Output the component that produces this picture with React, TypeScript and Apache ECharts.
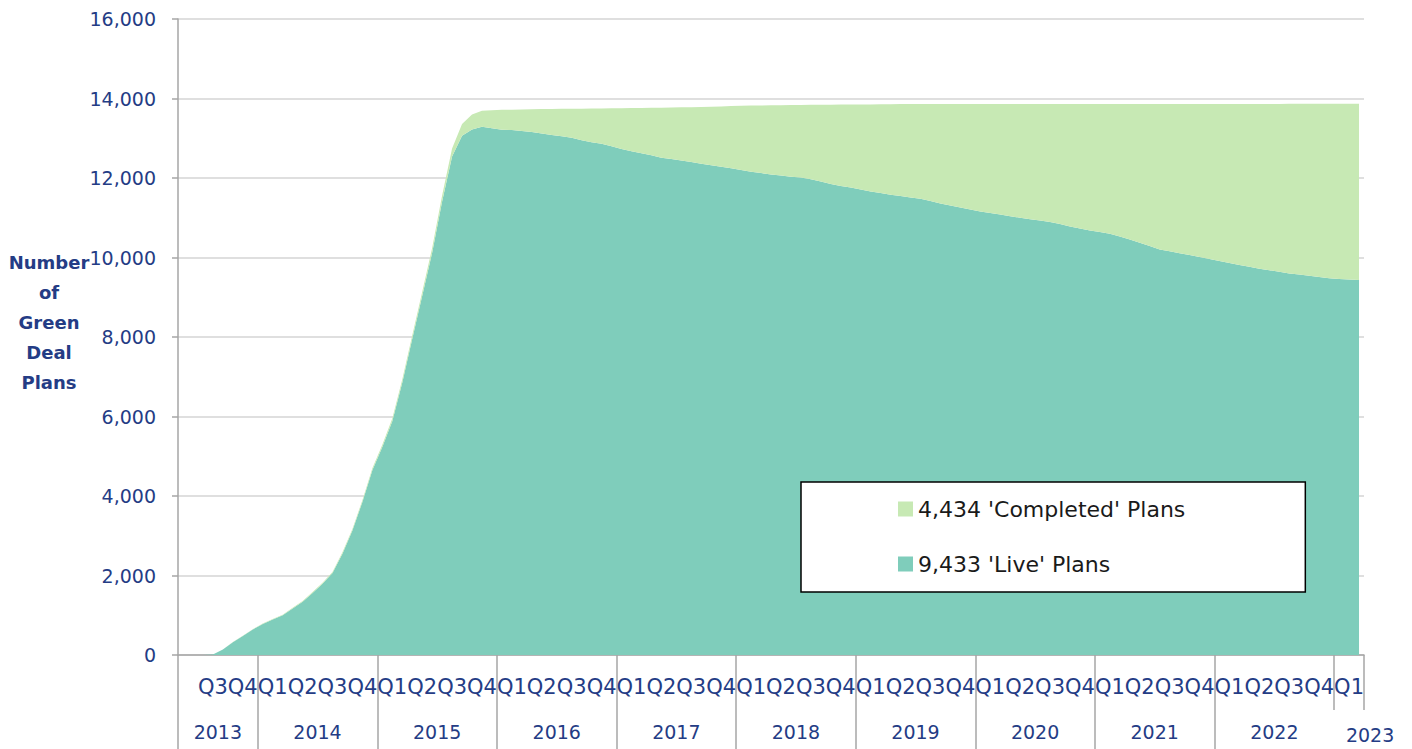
import React, { useEffect, useRef } from "react";
import * as echarts from "echarts";

// ---------- data ----------
const START_YEAR = 2013;
const START_MONTH = 5; // May 2013
const MONTH_COUNT = 119; // May 2013 .. Mar 2023

const COMPLETED_NAME = "4,434 'Completed' Plans";
const LIVE_NAME = "9,433 'Live' Plans";
const Y_NAME_LINES = ["Number", "of", "Green", "Deal", "Plans"];

// 'Live' plans per month
const livePlans = [
  0, 0, 0, 15, 140, 320, 480, 640,
  780, 890, 1000, 1170, 1340, 1560, 1790, 2060, 2550, 3130, 3850, 4650,
  5230, 5880, 6850, 7950, 9030, 10120, 11410, 12540, 13060, 13220, 13290, 13250,
  13215, 13205, 13185, 13160, 13120, 13080, 13050, 13010, 12950, 12900, 12860, 12800,
  12730, 12670, 12620, 12570, 12510, 12480, 12440, 12400, 12360, 12320, 12280, 12245,
  12200, 12160, 12125, 12090, 12060, 12030, 12010, 11970, 11910, 11850, 11800, 11760,
  11710, 11660, 11620, 11580, 11545, 11510, 11480, 11420, 11360, 11310, 11260, 11210,
  11160, 11120, 11080, 11040, 11000, 10965, 10930, 10890, 10840, 10780, 10730, 10680,
  10640, 10600, 10530, 10450, 10370, 10290, 10200, 10160, 10110, 10060, 10010, 9960,
  9910, 9860, 9810, 9770, 9720, 9680, 9640, 9600, 9570, 9540, 9510, 9480,
  9460, 9445, 9433,
];

// 'Completed' plans per month
const completedPlans = [
  0, 0, 0, 0, 0, 5, 5, 10,
  10, 15, 15, 20, 20, 25, 30, 30, 35, 40, 45, 50,
  60, 70, 80, 90, 100, 120, 150, 200, 300, 380, 400, 455,
  500, 515, 540, 570, 615, 658, 690, 732, 795, 848, 890, 952,
  1025, 1088, 1140, 1195, 1260, 1295, 1340, 1382, 1425, 1470, 1520, 1565,
  1618, 1662, 1700, 1738, 1772, 1805, 1828, 1870, 1932, 1994, 2046, 2088,
  2140, 2192, 2235, 2277, 2315, 2352, 2382, 2442, 2502, 2552, 2602, 2652,
  2702, 2742, 2782, 2822, 2862, 2897, 2932, 2972, 3022, 3082, 3132, 3182,
  3222, 3262, 3332, 3412, 3494, 3574, 3664, 3704, 3754, 3804, 3854, 3904,
  3954, 4004, 4054, 4094, 4144, 4184, 4224, 4266, 4296, 4326, 4356, 4386,
  4406, 4421, 4434,
];

const Y_MIN = 0;
const Y_MAX = 16000;
const Y_INTERVAL = 2000;

// ---------- derived axis helpers ----------
const monthLabels: string[] = [];
const monthYear: number[] = [];
const monthNum: number[] = [];
for (let k = 0; k < MONTH_COUNT; k++) {
  const m0 = START_MONTH - 1 + k;
  const y = START_YEAR + Math.floor(m0 / 12);
  const m = (m0 % 12) + 1;
  monthYear.push(y);
  monthNum.push(m);
  monthLabels.push(`${y}-${String(m).padStart(2, "0")}`);
}

type Group = { key: string; label: string; first: number; count: number; year: number };
const quarterGroups: Group[] = [];
const yearGroups: Group[] = [];
monthLabels.forEach((_, i) => {
  const y = monthYear[i];
  const q = Math.floor((monthNum[i] - 1) / 3) + 1;
  const qk = `${y}Q${q}`;
  const lastQ = quarterGroups[quarterGroups.length - 1];
  if (lastQ && lastQ.key === qk) lastQ.count++;
  else quarterGroups.push({ key: qk, label: `Q${q}`, first: i, count: 1, year: y });
  const yk = String(y);
  const lastY = yearGroups[yearGroups.length - 1];
  if (lastY && lastY.key === yk) lastY.count++;
  else yearGroups.push({ key: yk, label: yk, first: i, count: 1, year: y });
});

const quarterCenters = quarterGroups
  .filter((g) => g.count === 3)
  .map((g) => ({ v: g.first + g.count / 2, label: g.label }));
const yearCenters = yearGroups.map((g) => ({ v: g.first + g.count / 2, label: g.label, partial: g.count < 12 && g.first > 0 }));
const longBoundaries = yearGroups.filter((g) => g.count === 12 || g.first === 0).map((g) => g.first);
const shortBoundaries = [...yearGroups.filter((g) => !(g.count === 12 || g.first === 0)).map((g) => g.first), MONTH_COUNT];

const NAVY = "#243c85";
const FONT = "DejaVu Sans";
const AXIS_GRAY = "#a6a6a6";

function findLabel(list: { v: number; label: string }[], v: number) {
  const f = list.find((d) => Math.abs(d.v - v) < 1e-6);
  return f ? f.label : "";
}

export default function App() {
  const ref = useRef<HTMLDivElement>(null);
  useEffect(() => {
    if (!ref.current) return;
    const chart = echarts.init(ref.current, undefined, { renderer: "svg" });
    const option: any = {
      animation: false,
      backgroundColor: "#ffffff",
      grid: { left: 178, right: 48, top: 19, bottom: 94, containLabel: false },
      legend: {
        orient: "vertical",
        left: 801,
        top: 482,
        data: [COMPLETED_NAME, LIVE_NAME],
        icon: "rect",
        itemWidth: 15,
        itemHeight: 15,
        itemGap: 31,
        padding: [15, 120, 16, 97],
        backgroundColor: "#ffffff",
        borderColor: "#000000",
        borderWidth: 1.5,
        textStyle: { color: "#1a1a1a", fontSize: 22, fontFamily: FONT, lineHeight: 24 },
      },
      xAxis: [
        {
          type: "category",
          data: monthLabels,
          boundaryGap: true,
          position: "bottom",
          axisLine: { show: true, lineStyle: { color: AXIS_GRAY, width: 1.5 } },
          axisTick: { show: false },
          axisLabel: { show: false },
          splitLine: { show: false },
        },
        {
          type: "value",
          min: 0,
          max: MONTH_COUNT,
          position: "bottom",
          axisLine: { show: false },
          splitLine: { show: false },
          axisTick: {
            show: true,
            length: 55,
            customValues: shortBoundaries,
            lineStyle: { color: AXIS_GRAY, width: 1.5 },
          },
          axisLabel: {
            show: true,
            customValues: quarterCenters.map((d) => d.v),
            formatter: (v: number) => findLabel(quarterCenters, v),
            margin: 21,
            color: NAVY,
            fontSize: 21,
            fontFamily: FONT,
          },
        },
        {
          type: "value",
          min: 0,
          max: MONTH_COUNT,
          position: "bottom",
          axisLine: { show: false },
          splitLine: { show: false },
          axisTick: {
            show: true,
            length: 94,
            customValues: longBoundaries,
            lineStyle: { color: AXIS_GRAY, width: 1.5 },
          },
          axisLabel: {
            show: true,
            customValues: yearCenters.map((d) => d.v),
            formatter: (v: number) => {
              const f = yearCenters.find((d) => Math.abs(d.v - v) < 1e-6);
              if (!f) return "";
              return f.partial ? `{p|${f.label}}` : f.label;
            },
            margin: 67,
            color: NAVY,
            fontSize: 19,
            fontFamily: FONT,
            rich: {
              p: { color: NAVY, fontSize: 19, fontFamily: FONT, padding: [3, 0, 0, 42] },
            },
          },
        },
      ],
      yAxis: {
        type: "value",
        min: Y_MIN,
        max: Y_MAX,
        interval: Y_INTERVAL,
        name: Y_NAME_LINES.join("\n") + "\n",
        nameLocation: "middle",
        nameRotate: 0,
        nameGap: 129,
        nameMoveOverlap: false,
        nameTextStyle: {
          color: NAVY,
          fontSize: 18,
          fontWeight: "bold",
          fontFamily: FONT,
          lineHeight: 30,
          align: "center",
          verticalAlign: "middle",
        },
        axisLine: { show: true, lineStyle: { color: AXIS_GRAY, width: 1.5 } },
        axisTick: { show: true, length: 6, lineStyle: { color: AXIS_GRAY, width: 1.5 } },
        axisLabel: {
          color: NAVY,
          fontSize: 19,
          fontFamily: FONT,
          margin: 22,
          formatter: (v: number) => v.toLocaleString("en-US"),
        },
        splitLine: { show: true, lineStyle: { color: "#d4d4d4", width: 1.5 } },
      },
      series: [
        {
          name: LIVE_NAME,
          type: "line",
          stack: "plans",
          data: livePlans,
          xAxisIndex: 0,
          showSymbol: false,
          symbol: "none",
          lineStyle: { width: 0 },
          itemStyle: { color: "#7fcdbb" },
          areaStyle: { color: "#7fcdbb", opacity: 1 },
        },
        {
          name: COMPLETED_NAME,
          type: "line",
          stack: "plans",
          data: completedPlans,
          xAxisIndex: 0,
          showSymbol: false,
          symbol: "none",
          lineStyle: { width: 0 },
          itemStyle: { color: "#c7e9b4" },
          areaStyle: { color: "#c7e9b4", opacity: 1 },
        },
      ],
    };
    chart.setOption(option);
    return () => chart.dispose();
  }, []);
  return (
    <div
      ref={ref}
      style={{ position: "absolute", left: 0, top: 0, width: 1412, height: 749, background: "#fff" }}
    />
  );
}
